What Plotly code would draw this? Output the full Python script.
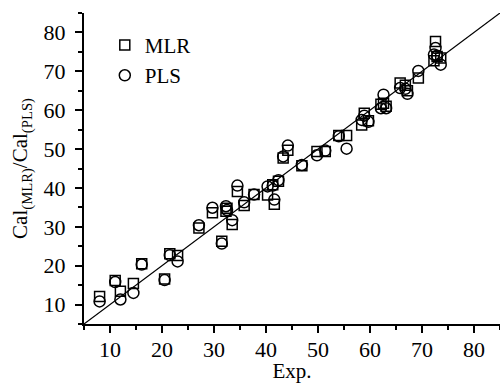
import plotly.graph_objects as go

# Experimental values
exp_vals = [8.0, 11.0, 12.0, 14.5, 16.1, 20.5, 21.5, 23.0, 27.1, 29.7,
            31.5, 32.3, 32.5, 33.5, 34.5, 35.8, 37.7, 40.3, 41.3, 41.6,
            42.4, 43.3, 44.2, 46.9, 49.8, 51.4, 54.0, 55.5, 58.4, 58.9,
            59.7, 62.1, 62.6, 63.1, 65.8, 66.8, 67.2, 69.3, 72.3, 72.6,
            72.9, 73.6]
mlr_vals = [12.1, 16.2, 13.4, 15.4, 20.5, 16.6, 23.1, 22.6, 29.7, 33.6,
            26.3, 34.0, 34.8, 30.6, 39.1, 35.5, 38.3, 38.2, 40.8, 35.8,
            41.7, 47.7, 49.7, 45.7, 49.4, 49.4, 53.5, 53.5, 56.2, 59.2,
            57.3, 61.5, 61.8, 61.0, 67.0, 66.4, 65.0, 68.3, 72.7, 77.7,
            73.8, 73.4]
pls_vals = [10.8, 15.8, 11.3, 13.0, 20.3, 16.3, 22.7, 21.1, 30.4, 34.9,
            25.7, 35.3, 34.3, 31.7, 40.6, 36.3, 38.3, 40.4, 40.6, 37.0,
            42.0, 48.1, 50.9, 45.9, 48.4, 49.6, 53.3, 50.1, 57.5, 58.6,
            57.0, 60.5, 64.0, 60.5, 65.7, 65.5, 64.2, 70.1, 74.3, 76.0,
            74.0, 71.7]
ideal_line = [5, 85]
tick_vals = [10, 20, 30, 40, 50, 60, 70, 80]

FONT = "Liberation Serif"

fig = go.Figure()
fig.add_trace(go.Scatter(x=ideal_line, y=ideal_line, mode="lines",
                         line=dict(color="black", width=1.2),
                         showlegend=False, hoverinfo="skip"))
fig.add_trace(go.Scatter(x=exp_vals, y=mlr_vals, mode="markers", name="MLR",
                         marker=dict(symbol="square-open", size=10,
                                     color="black", line=dict(width=1.5))))
fig.add_trace(go.Scatter(x=exp_vals, y=pls_vals, mode="markers", name="PLS",
                         marker=dict(symbol="circle-open", size=11,
                                     color="black", line=dict(width=1.5))))

axis_common = dict(
    tickvals=tick_vals, ticks="outside", ticklen=7, tickwidth=1.5,
    tickcolor="black", showline=True, linecolor="black", linewidth=2,
    showgrid=False, zeroline=False, mirror=False, automargin=False,
    tickfont=dict(family=FONT, size=22, color="black"),
    minor=dict(dtick=5, tick0=5, ticks="outside", ticklen=4,
               tickwidth=1.5, tickcolor="black", showgrid=False),
)

fig.update_layout(
    template="none",
    width=500, height=383,
    margin=dict(l=84, r=0, t=13, b=59, autoexpand=False),
    paper_bgcolor="white", plot_bgcolor="white",
    font=dict(family=FONT, size=21, color="black"),
    xaxis=dict(range=[5, 85], ticklabelstandoff=-2,
               title=dict(text="Exp.", standoff=0,
                          font=dict(family=FONT, size=21)),
               **axis_common),
    yaxis=dict(range=[5, 85], ticklabelstandoff=5,
               title=dict(text="Cal<sub>(MLR)</sub>/Cal<sub>(PLS)</sub>",
                          standoff=10, font=dict(family=FONT, size=21)),
               **axis_common),
    legend=dict(x=0.05, y=0.962, xanchor="left", yanchor="top",
                bgcolor="rgba(0,0,0,0)", itemwidth=30,
                font=dict(family=FONT, size=21, color="black")),
)

fig.write_html("out.html",
               config={"displayModeBar": False},
               post_script="document.body.style.margin='0';"
                           "document.body.style.overflow='hidden';")
